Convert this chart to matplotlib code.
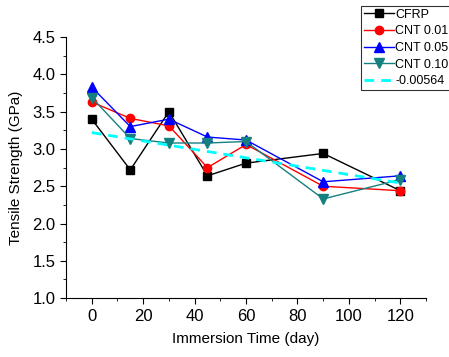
import matplotlib
matplotlib.use("Agg")
import matplotlib.pyplot as plt
import numpy as np

plt.rcParams['font.family'] = ['Liberation Sans', 'DejaVu Sans']

days = [0, 15, 30, 45, 60, 90, 120]
cfrp = [3.40, 2.72, 3.50, 2.64, 2.81, 2.94, 2.44]
cnt001 = [3.63, 3.41, 3.31, 2.75, 3.06, 2.50, 2.44]
cnt005 = [3.83, 3.30, 3.40, 3.16, 3.12, 2.56, 2.64]
cnt010 = [3.69, 3.14, 3.08, 3.08, 3.10, 2.33, 2.59]
fit_x = [0, 120]
fit_slope = -0.00564
fit_icpt = 3.22
# legend labels run off the right edge in the original, only the visible part is kept
labels = ["CFRP", "CNT 0.01", "CNT 0.05", "CNT 0.10", "-0.00564"]

fig = plt.figure(figsize=(4.49, 3.57), dpi=100)
ax = fig.add_axes([0.147, 0.165, 0.802, 0.731])

ax.plot(days, cfrp, color='black', marker='s', ms=5.5, lw=1, label=labels[0])
ax.plot(days, cnt001, color='red', marker='o', ms=6, lw=1, label=labels[1])
ax.plot(days, cnt005, color='blue', marker='^', ms=6.5, lw=1, label=labels[2])
ax.plot(days, cnt010, color='#158080', marker='v', ms=6.5, lw=1, label=labels[3])
fx = np.array(fit_x)
ax.plot(fx, fit_slope * fx + fit_icpt, color='cyan', ls=(0, (3.5, 2.5)), lw=2, label=labels[4])

ax.set_xlim(-10, 130)
ax.set_ylim(1.0, 4.5)
ax.set_xticks(range(0, 121, 20))
ax.set_xticks(range(-10, 131, 10), minor=True)
ax.set_yticks(np.arange(1.0, 4.51, 0.5))
ax.set_yticks(np.arange(1.0, 4.51, 0.25), minor=True)
ax.yaxis.set_major_formatter(matplotlib.ticker.FormatStrFormatter('%.1f'))
ax.spines['top'].set_visible(False)
ax.spines['right'].set_visible(False)
ax.tick_params(which='both', direction='out', labelsize=12)
ax.tick_params(which='major', length=4)
ax.tick_params(which='minor', length=2.5)
ax.set_xlabel("Immersion Time (day)", fontsize=11, labelpad=6)
ax.set_ylabel("Tensile Strength (GPa)", fontsize=11, labelpad=7)

leg = ax.legend(loc='upper left', bbox_to_anchor=(361 / 449, 1 - 6 / 357),
                bbox_transform=fig.transFigure, fontsize=9.0, frameon=True,
                fancybox=False, borderpad=0.2, labelspacing=0.38,
                handlelength=2.4, handletextpad=0.15, borderaxespad=0)
leg.get_frame().set_edgecolor('black')
leg.get_frame().set_linewidth(0.8)

fig.savefig("out.png", dpi=100)
